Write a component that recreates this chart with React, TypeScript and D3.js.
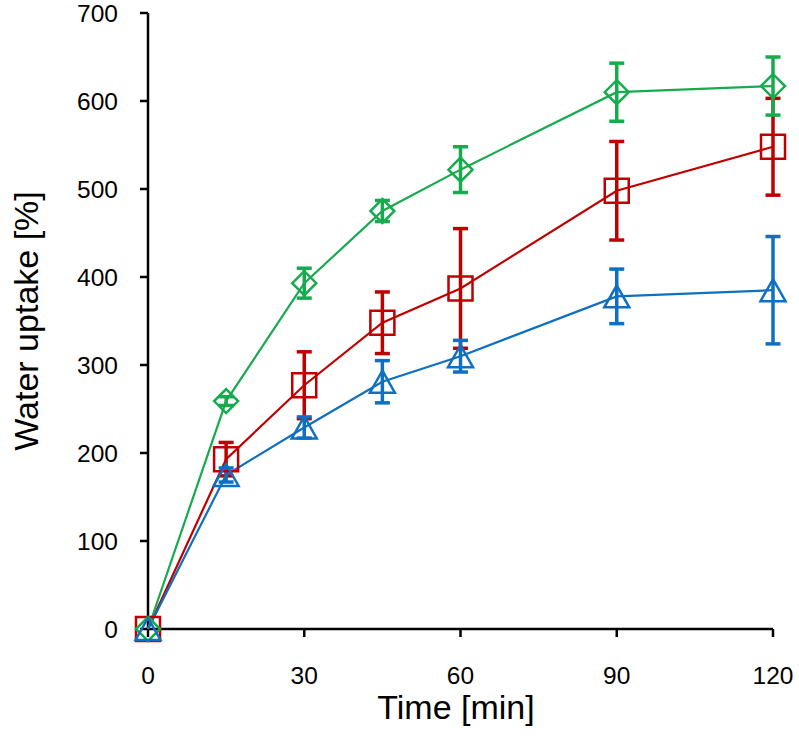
import React from "react";
import * as d3 from "d3";

const times = [0, 15, 30, 45, 60, 90, 120];
const greenVals = [0, 259, 393, 475, 522, 610, 617];
const greenErr = [0, 5, 17, 12, 26, 33, 33];
const redVals = [0, 193, 277, 348, 387, 498, 548];
const redErr = [0, 19, 38, 35, 68, 56, 55];
const blueVals = [0, 175, 229, 281, 310, 378, 385];
const blueErr = [0, 8, 12, 24, 18, 31, 61];
const xTicks = [0, 30, 60, 90, 120];
const yTicks = [0, 100, 200, 300, 400, 500, 600, 700];

type Series = { name: string; color: string; vals: number[]; err: number[]; marker: string };
const series: Series[] = [
  { name: "red", color: "#C00000", vals: redVals, err: redErr, marker: "square" },
  { name: "green", color: "#17AB4E", vals: greenVals, err: greenErr, marker: "diamond" },
  { name: "blue", color: "#0F6FC0", vals: blueVals, err: blueErr, marker: "triangle" },
];

const W = 799, H = 737;
const x = d3.scaleLinear().domain([0, 120]).range([148, 773]);
const y = d3.scaleLinear().domain([0, 700]).range([629, 13]);
const font = "Liberation Sans, Arial, sans-serif";

function markerPath(kind: string, cx: number, cy: number): string {
  if (kind === "square") return `M${cx - 12},${cy - 12}h24v24h-24Z`;
  if (kind === "diamond") return `M${cx},${cy - 12}L${cx + 12},${cy}L${cx},${cy + 12}L${cx - 12},${cy}Z`;
  return `M${cx},${cy - 11}L${cx + 12.5},${cy + 11}L${cx - 12.5},${cy + 11}Z`;
}

export default function App() {
  const line = d3.line<number>().x((_, i) => x(times[i])).y((d) => y(d));
  return (
    <svg width={W} height={H} style={{ position: "absolute", left: 0, top: 0, background: "#fff" }}>
      <rect width={W} height={H} fill="#fff" />
      <g stroke="#000" strokeWidth={2.5} fill="none">
        <line x1={x(0)} x2={x(0)} y1={y(700)} y2={y(0)} />
        <line x1={x(0)} x2={x(120)} y1={y(0)} y2={y(0)} />
        {yTicks.map((t) => (
          <line key={"yt" + t} x1={x(0) - 8} x2={x(0)} y1={y(t)} y2={y(t)} />
        ))}
        {xTicks.map((t) => (
          <line key={"xt" + t} x1={x(t)} x2={x(t)} y1={y(0)} y2={y(0) + 8} />
        ))}
      </g>
      <g fontFamily={font} fontSize={24.5} fill="#000">
        {yTicks.map((t) => (
          <text key={"yl" + t} x={118} y={y(t)} dy="0.37em" textAnchor="end">{t}</text>
        ))}
        {xTicks.map((t) => (
          <text key={"xl" + t} x={x(t)} y={684} textAnchor="middle">{t}</text>
        ))}
      </g>
      <text x={456} y={719} textAnchor="middle" fontFamily={font} fontSize={34}>Time [min]</text>
      <text transform={`translate(38,${(y(0) + y(700)) / 2}) rotate(-90)`} textAnchor="middle" fontFamily={font} fontSize={34}>Water uptake [%]</text>
      {series.map((s) => (
        <g key={s.name}>
          <g stroke={s.color} strokeWidth={3.5}>
            {s.vals.map((v, i) =>
              s.err[i] > 0 ? (
                <g key={i}>
                  <line x1={x(times[i])} x2={x(times[i])} y1={y(v + s.err[i])} y2={y(v - s.err[i])} />
                  <line x1={x(times[i]) - 7.5} x2={x(times[i]) + 7.5} y1={y(v + s.err[i])} y2={y(v + s.err[i])} />
                  <line x1={x(times[i]) - 7.5} x2={x(times[i]) + 7.5} y1={y(v - s.err[i])} y2={y(v - s.err[i])} />
                </g>
              ) : null
            )}
          </g>
          <path d={line(s.vals) || ""} fill="none" stroke={s.color} strokeWidth={2.2} />
        </g>
      ))}
      {series.map((s) => (
        <g key={"m" + s.name} fill="none" stroke={s.color} strokeWidth={2.5}>
          {s.vals.map((v, i) => (
            <path key={i} d={markerPath(s.marker, x(times[i]), y(v))} />
          ))}
        </g>
      ))}
    </svg>
  );
}
